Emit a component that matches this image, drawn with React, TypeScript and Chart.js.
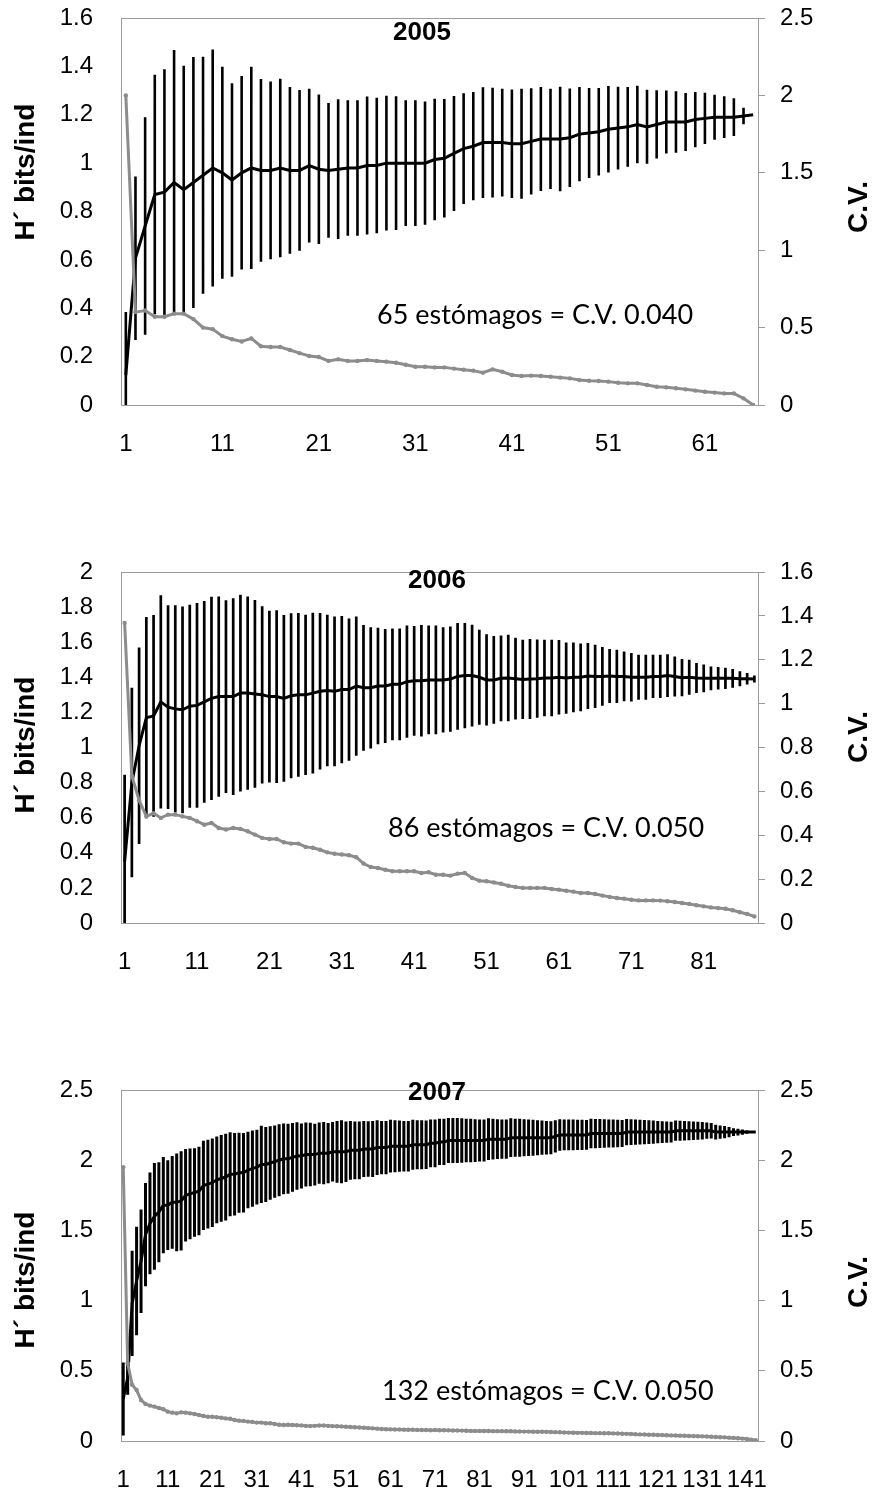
import { useEffect, useRef } from "react";
import { Chart, registerables } from "chart.js";

Chart.register(...registerables);

const AXIS_FONT = "'Liberation Sans', Arial, sans-serif";
const NOTE_FONT = "Lato, 'Open Sans', sans-serif";
const FRAME = "#9b9b9b";
const CV_GREY = "#8c8c8c";

// ---- 2005: mean diversity H', its error half-width, and the coefficient of variation
const h2005 = [
  0.124, 0.607, 0.74, 0.87, 0.88, 0.92, 0.89, 0.92, 0.95, 0.98,
  0.96, 0.93, 0.96, 0.98, 0.97, 0.97, 0.98, 0.97, 0.97, 0.99,
  0.975, 0.97, 0.975, 0.98, 0.98, 0.99, 0.99, 1.0, 1.0, 1.0,
  1.0, 1.0, 1.015, 1.02, 1.04, 1.06, 1.07, 1.085, 1.085, 1.085,
  1.08, 1.08, 1.09, 1.1, 1.1, 1.1, 1.105, 1.12, 1.125, 1.13,
  1.14, 1.145, 1.15, 1.16, 1.15, 1.16, 1.17, 1.17, 1.17, 1.18,
  1.185, 1.19, 1.19, 1.19, 1.195, 1.2,
];
const err2005 = [
  0.26, 0.338, 0.45, 0.495, 0.508, 0.548, 0.513, 0.519, 0.49, 0.49,
  0.438, 0.4, 0.4, 0.418, 0.378, 0.367, 0.369, 0.345, 0.332, 0.318,
  0.309, 0.279, 0.289, 0.28, 0.28, 0.285, 0.28, 0.279, 0.276, 0.26,
  0.26, 0.255, 0.251, 0.245, 0.238, 0.229, 0.224, 0.229, 0.227, 0.223,
  0.224, 0.227, 0.22, 0.215, 0.207, 0.216, 0.204, 0.195, 0.186, 0.181,
  0.179, 0.171, 0.165, 0.16, 0.153, 0.141, 0.13, 0.127, 0.12, 0.114,
  0.106, 0.093, 0.086, 0.078, 0.034, 0,
];
const cv2005 = [
  2.0, 0.6, 0.61, 0.57, 0.57, 0.59, 0.59, 0.555, 0.5, 0.49,
  0.445, 0.425, 0.41, 0.43, 0.38, 0.375, 0.375, 0.355, 0.335, 0.317,
  0.31, 0.285, 0.295, 0.285, 0.285, 0.29, 0.285, 0.28, 0.273, 0.26,
  0.247, 0.247, 0.243, 0.243, 0.235, 0.228, 0.222, 0.209, 0.23, 0.215,
  0.194, 0.187, 0.19, 0.187, 0.183, 0.177, 0.172, 0.161, 0.157, 0.155,
  0.151, 0.144, 0.14, 0.14, 0.129, 0.118, 0.114, 0.108, 0.101, 0.093,
  0.086, 0.08, 0.075, 0.075, 0.043, 0,
];

// ---- 2006
const h2006 = [
  0.35, 0.8, 1.01, 1.17, 1.18, 1.26, 1.23, 1.22, 1.215, 1.235,
  1.24, 1.26, 1.28, 1.29, 1.29, 1.29, 1.31, 1.31, 1.305, 1.3,
  1.29, 1.29, 1.28, 1.295, 1.3, 1.3, 1.31, 1.32, 1.325, 1.32,
  1.33, 1.33, 1.35, 1.34, 1.34, 1.35, 1.35, 1.36, 1.36, 1.375,
  1.38, 1.38, 1.385, 1.385, 1.385, 1.39, 1.405, 1.41, 1.41, 1.4,
  1.385, 1.385, 1.394, 1.396, 1.392, 1.388, 1.39, 1.392, 1.396, 1.396,
  1.4, 1.396, 1.4, 1.4, 1.407, 1.405, 1.405, 1.407, 1.405, 1.405,
  1.4, 1.4, 1.4, 1.405, 1.405, 1.41, 1.405, 1.398, 1.4, 1.396,
  1.394, 1.394, 1.394, 1.394, 1.394, 1.392, 1.392, 1.39,
];
const err2006 = [
  0.495, 0.54, 0.56, 0.573, 0.575, 0.608, 0.58, 0.59, 0.589, 0.579,
  0.584, 0.575, 0.579, 0.57, 0.549, 0.56, 0.56, 0.551, 0.535, 0.505,
  0.489, 0.492, 0.475, 0.47, 0.467, 0.456, 0.458, 0.446, 0.432, 0.427,
  0.42, 0.405, 0.397, 0.358, 0.345, 0.332, 0.325, 0.318, 0.318, 0.32,
  0.313, 0.318, 0.31, 0.31, 0.3, 0.3, 0.304, 0.3, 0.29, 0.271,
  0.26, 0.25, 0.244, 0.247, 0.233, 0.226, 0.228, 0.223, 0.218, 0.218,
  0.212, 0.203, 0.199, 0.193, 0.188, 0.18, 0.167, 0.154, 0.152, 0.142,
  0.138, 0.128, 0.128, 0.123, 0.123, 0.122, 0.114, 0.106, 0.1, 0.085,
  0.079, 0.068, 0.064, 0.06, 0.054, 0.043, 0.033, 0.02,
];
const cv2006 = [
  1.368, 0.67, 0.56, 0.486, 0.5, 0.479, 0.494, 0.494, 0.486, 0.479,
  0.464, 0.448, 0.456, 0.433, 0.426, 0.433, 0.429, 0.418, 0.403, 0.388,
  0.383, 0.383, 0.368, 0.362, 0.362, 0.347, 0.343, 0.334, 0.322, 0.316,
  0.312, 0.309, 0.3, 0.271, 0.255, 0.251, 0.243, 0.236, 0.236, 0.236,
  0.236, 0.228, 0.231, 0.22, 0.22, 0.216, 0.225, 0.228, 0.205, 0.193,
  0.19, 0.185, 0.179, 0.17, 0.164, 0.16, 0.16, 0.16, 0.16, 0.155,
  0.152, 0.147, 0.143, 0.137, 0.137, 0.132, 0.125, 0.119, 0.114, 0.111,
  0.106, 0.103, 0.103, 0.103, 0.102, 0.099, 0.096, 0.091, 0.087, 0.081,
  0.076, 0.071, 0.068, 0.065, 0.058, 0.049, 0.041, 0.03,
];

// ---- 2007
const h2007 = [
  0.3, 0.45, 0.98, 1.14, 1.28, 1.47, 1.55, 1.6, 1.63, 1.68,
  1.68, 1.7, 1.7, 1.71, 1.75, 1.76, 1.77, 1.78, 1.82, 1.83,
  1.84, 1.86, 1.87, 1.88, 1.9, 1.9, 1.91, 1.91, 1.93, 1.94,
  1.95, 1.97, 1.97, 1.98, 1.99, 2.0, 2.01, 2.01, 2.02, 2.03,
  2.03, 2.04, 2.04, 2.04, 2.05, 2.05, 2.05, 2.06, 2.06, 2.06,
  2.06, 2.07, 2.07, 2.07, 2.08, 2.08, 2.08, 2.09, 2.09, 2.09,
  2.1, 2.1, 2.1, 2.1, 2.1, 2.11, 2.11, 2.11, 2.11, 2.12,
  2.12, 2.13, 2.13, 2.14, 2.14, 2.14, 2.14, 2.14, 2.14, 2.14,
  2.14, 2.14, 2.15, 2.15, 2.15, 2.15, 2.15, 2.16, 2.16, 2.16,
  2.16, 2.16, 2.16, 2.16, 2.16, 2.16, 2.16, 2.17, 2.18, 2.18,
  2.18, 2.18, 2.18, 2.18, 2.18, 2.19, 2.19, 2.19, 2.19, 2.19,
  2.19, 2.19, 2.19, 2.2, 2.2, 2.2, 2.2, 2.2, 2.2, 2.2,
  2.2, 2.2, 2.2, 2.2, 2.21, 2.21, 2.21, 2.21, 2.21, 2.21,
  2.21, 2.21, 2.21, 2.2, 2.2, 2.2, 2.2, 2.2, 2.2, 2.2,
  2.2, 2.2, 2.2,
];
const err2007 = [
  0.26, 0.12, 0.375, 0.386, 0.368, 0.368, 0.362, 0.38, 0.356, 0.342,
  0.32, 0.33, 0.348, 0.354, 0.329, 0.323, 0.315, 0.315, 0.318, 0.316,
  0.315, 0.309, 0.309, 0.309, 0.299, 0.294, 0.285, 0.283, 0.273, 0.271,
  0.266, 0.275, 0.267, 0.261, 0.257, 0.256, 0.252, 0.249, 0.245, 0.24,
  0.231, 0.228, 0.226, 0.22, 0.218, 0.222, 0.215, 0.212, 0.22, 0.225,
  0.215, 0.21, 0.205, 0.205, 0.2, 0.198, 0.2, 0.195, 0.19, 0.19,
  0.188, 0.185, 0.182, 0.18, 0.18, 0.178, 0.175, 0.175, 0.172, 0.17,
  0.17, 0.165, 0.165, 0.16, 0.16, 0.16, 0.158, 0.155, 0.155, 0.152,
  0.15, 0.15, 0.148, 0.145, 0.142, 0.14, 0.14, 0.138, 0.135, 0.135,
  0.132, 0.13, 0.128, 0.125, 0.122, 0.12, 0.118, 0.115, 0.112, 0.11,
  0.11, 0.11, 0.108, 0.108, 0.106, 0.105, 0.104, 0.103, 0.102, 0.1,
  0.1, 0.098, 0.096, 0.094, 0.092, 0.09, 0.088, 0.086, 0.084, 0.082,
  0.08, 0.078, 0.076, 0.074, 0.072, 0.071, 0.07, 0.068, 0.066, 0.064,
  0.062, 0.058, 0.055, 0.052, 0.047, 0.043, 0.036, 0.028, 0.024, 0.019,
  0.012, 0.007, 0,
];
const cv2007 = [
  1.95, 0.553, 0.4, 0.363, 0.292, 0.264, 0.252, 0.245, 0.235, 0.226,
  0.209, 0.202, 0.197, 0.204, 0.202, 0.197, 0.192, 0.185, 0.178, 0.173,
  0.173, 0.169, 0.166, 0.161, 0.159, 0.15, 0.145, 0.143, 0.138, 0.136,
  0.131, 0.131, 0.126, 0.126, 0.121, 0.116, 0.114, 0.116, 0.114, 0.112,
  0.111, 0.108, 0.106, 0.108, 0.11, 0.11, 0.108, 0.106, 0.105, 0.104,
  0.102, 0.1, 0.098, 0.096, 0.094, 0.092, 0.09, 0.088, 0.086, 0.084,
  0.083, 0.082, 0.082, 0.081, 0.08, 0.08, 0.079, 0.078, 0.078, 0.077,
  0.078, 0.077, 0.077, 0.076, 0.075, 0.075, 0.074, 0.073, 0.072, 0.072,
  0.072, 0.071, 0.071, 0.07, 0.07, 0.07, 0.069, 0.069, 0.068, 0.068,
  0.067, 0.067, 0.066, 0.066, 0.066, 0.065, 0.064, 0.063, 0.062, 0.061,
  0.06, 0.059, 0.058, 0.058, 0.057, 0.057, 0.056, 0.056, 0.055, 0.055,
  0.054, 0.053, 0.052, 0.051, 0.05, 0.048, 0.047, 0.046, 0.045, 0.044,
  0.043, 0.042, 0.041, 0.04, 0.039, 0.038, 0.037, 0.036, 0.035, 0.034,
  0.033, 0.032, 0.03, 0.029, 0.027, 0.026, 0.024, 0.022, 0.02, 0.017,
  0.014, 0.01, 0.006,
];

const years = ["2005", "2006", "2007"];
const notes = [
  "65 estómagos = C.V. 0.040",
  "86 estómagos = C.V. 0.050",
  "132 estómagos = C.V. 0.050",
];
const hTitle = "H´ bits/ind";
const cvTitle = "C.V.";

// x categories are the sample counts 1..n
const sampleLabels = (n: number) => Array.from({ length: n }, (_, i) => String(i + 1));

type Panel = {
  year: string;
  note: string;
  h: number[];
  err: number[];
  cv: number[];
  hMax: number;
  hStep: number;
  cvMax: number;
  cvStep: number;
  top: number;
  height: number;
  plotTop: number;
  plotBottom: number;
  barWidth: number;
  yearX: number;
  yearY: number;
  noteX: number;
  noteY: number;
  hTitleY: number;
  cvTitleY: number;
};

const PANELS: Panel[] = [
  {
    year: years[0], note: notes[0], h: h2005, err: err2005, cv: cv2005,
    hMax: 1.6, hStep: 0.2, cvMax: 2.5, cvStep: 0.5,
    top: 0, height: 482, plotTop: 18, plotBottom: 405, barWidth: 2.6,
    yearX: 422, yearY: 40, noteX: 377, noteY: 324, hTitleY: 172, cvTitleY: 207,
  },
  {
    year: years[1], note: notes[1], h: h2006, err: err2006, cv: cv2006,
    hMax: 2, hStep: 0.2, cvMax: 1.6, cvStep: 0.2,
    top: 530, height: 472, plotTop: 42, plotBottom: 393, barWidth: 2.7,
    yearX: 437, yearY: 58, noteX: 388, noteY: 307, hTitleY: 215, cvTitleY: 207,
  },
  {
    year: years[2], note: notes[2], h: h2007, err: err2007, cv: cv2007,
    hMax: 2.5, hStep: 0.5, cvMax: 2.5, cvStep: 0.5,
    top: 1050, height: 442, plotTop: 40, plotBottom: 391, barWidth: 3,
    yearX: 437, yearY: 50, noteX: 382, noteY: 350, hTitleY: 230, cvTitleY: 232,
  },
];

const PLOT_LEFT = 121;
const PLOT_RIGHT = 758;
const WIDTH = 877;

const fmt = (v: number | string) => String(Math.round(Number(v) * 10) / 10);

function drawRotated(ctx: CanvasRenderingContext2D, text: string, x: number, y: number) {
  ctx.save();
  ctx.translate(x, y);
  ctx.rotate(-Math.PI / 2);
  ctx.fillText(text, 0, 0);
  ctx.restore();
}

function PanelChart({ p }: { p: Panel }) {
  const ref = useRef<HTMLCanvasElement>(null);

  useEffect(() => {
    const canvas = ref.current;
    if (!canvas) return;
    const labels = sampleLabels(p.h.length);

    // vertical error bars for the H' series, drawn beneath the lines
    const errorBars = {
      id: "errorBars",
      beforeDatasetsDraw(chart: any) {
        const { ctx, chartArea, scales } = chart;
        const xs = scales.x;
        const ys = scales.yH;
        ctx.save();
        ctx.beginPath();
        ctx.rect(chartArea.left, chartArea.top, chartArea.right - chartArea.left, chartArea.bottom - chartArea.top);
        ctx.clip();
        ctx.strokeStyle = "#000";
        ctx.lineWidth = p.barWidth;
        ctx.beginPath();
        p.h.forEach((v, i) => {
          const e = p.err[i];
          if (!e) return;
          const px = xs.getPixelForValue(i);
          ctx.moveTo(px, ys.getPixelForValue(v + e));
          ctx.lineTo(px, ys.getPixelForValue(v - e));
        });
        ctx.stroke();
        ctx.restore();
      },
    };

    // top edge of the frame, year, note and axis titles
    const decor = {
      id: "decor",
      afterDraw(chart: any) {
        const { ctx, chartArea } = chart;
        ctx.save();
        ctx.strokeStyle = FRAME;
        ctx.lineWidth = 1;
        const ty = Math.round(chartArea.top) + 0.5;
        ctx.beginPath();
        ctx.moveTo(chartArea.left, ty);
        ctx.lineTo(chartArea.right, ty);
        ctx.stroke();

        ctx.fillStyle = "#000";
        ctx.textBaseline = "alphabetic";
        ctx.textAlign = "center";
        ctx.font = `bold 26px ${AXIS_FONT}`;
        ctx.fillText(p.year, p.yearX, p.yearY);

        ctx.textAlign = "left";
        ctx.font = `27px ${NOTE_FONT}`;
        ctx.fillText(p.note, p.noteX, p.noteY);

        ctx.textAlign = "center";
        ctx.textBaseline = "middle";
        ctx.font = `bold 28px ${AXIS_FONT}`;
        drawRotated(ctx, hTitle, 26, p.hTitleY);
        drawRotated(ctx, cvTitle, 859, p.cvTitleY);
        ctx.restore();
      },
    };

    const tickFont = { family: AXIS_FONT, size: 24 };

    const chart = new Chart(canvas, {
      type: "line",
      data: {
        labels,
        datasets: [
          {
            label: cvTitle,
            data: p.cv,
            yAxisID: "yCV",
            borderColor: CV_GREY,
            backgroundColor: CV_GREY,
            borderWidth: 3,
            pointRadius: 2.2,
            pointBorderWidth: 0,
            pointBackgroundColor: CV_GREY,
            tension: 0,
          },
          {
            label: hTitle,
            data: p.h,
            yAxisID: "yH",
            borderColor: "#000",
            backgroundColor: "#000",
            borderWidth: 3,
            pointRadius: 0,
            tension: 0,
          },
        ],
      },
      options: {
        animation: false,
        responsive: false,
        devicePixelRatio: 1,
        layout: { padding: { top: p.plotTop, left: 0, right: 0, bottom: 0 } },
        plugins: {
          legend: { display: false },
          tooltip: { enabled: false },
          title: { display: false },
        },
        scales: {
          x: {
            type: "category",
            offset: true,
            grid: { display: false, drawTicks: false },
            border: { display: true, color: FRAME, width: 1 },
            ticks: {
              autoSkip: false,
              maxRotation: 0,
              minRotation: 0,
              padding: 25,
              color: "#000",
              font: tickFont,
              callback: (_v: any, i: number) => (i % 10 === 0 ? labels[i] : ""),
            },
            afterFit: (s: any) => {
              s.height = p.height - p.plotBottom;
              s.paddingLeft = 0;
              s.paddingRight = 0;
            },
          },
          yH: {
            type: "linear",
            position: "left",
            min: 0,
            max: p.hMax,
            grid: { display: false, drawTicks: false },
            border: { display: true, color: FRAME, width: 1 },
            ticks: {
              stepSize: p.hStep,
              padding: 28,
              color: "#000",
              font: tickFont,
              callback: (v: any) => fmt(v),
            },
            afterFit: (s: any) => {
              s.width = PLOT_LEFT;
              s.paddingTop = 0;
              s.paddingBottom = 0;
            },
          },
          yCV: {
            type: "linear",
            position: "right",
            min: 0,
            max: p.cvMax,
            grid: {
              display: true,
              drawOnChartArea: false,
              drawTicks: true,
              tickLength: 7,
              color: FRAME,
              lineWidth: 1,
            },
            border: { display: true, color: FRAME, width: 1 },
            ticks: {
              stepSize: p.cvStep,
              padding: 15,
              color: "#000",
              font: tickFont,
              callback: (v: any) => fmt(v),
            },
            afterFit: (s: any) => {
              s.width = WIDTH - PLOT_RIGHT;
              s.paddingTop = 0;
              s.paddingBottom = 0;
            },
          },
        },
      } as any,
      plugins: [errorBars, decor] as any,
    });

    return () => chart.destroy();
  }, [p]);

  return (
    <canvas
      ref={ref}
      width={WIDTH}
      height={p.height}
      style={{ position: "absolute", left: 0, top: p.top, width: WIDTH, height: p.height, display: "block" }}
    />
  );
}

export default function App() {
  return (
    <div style={{ position: "absolute", left: 0, top: 0, width: WIDTH, height: 1492, background: "#fff", overflow: "hidden" }}>
      {PANELS.map((p) => (
        <PanelChart key={p.year} p={p} />
      ))}
    </div>
  );
}
